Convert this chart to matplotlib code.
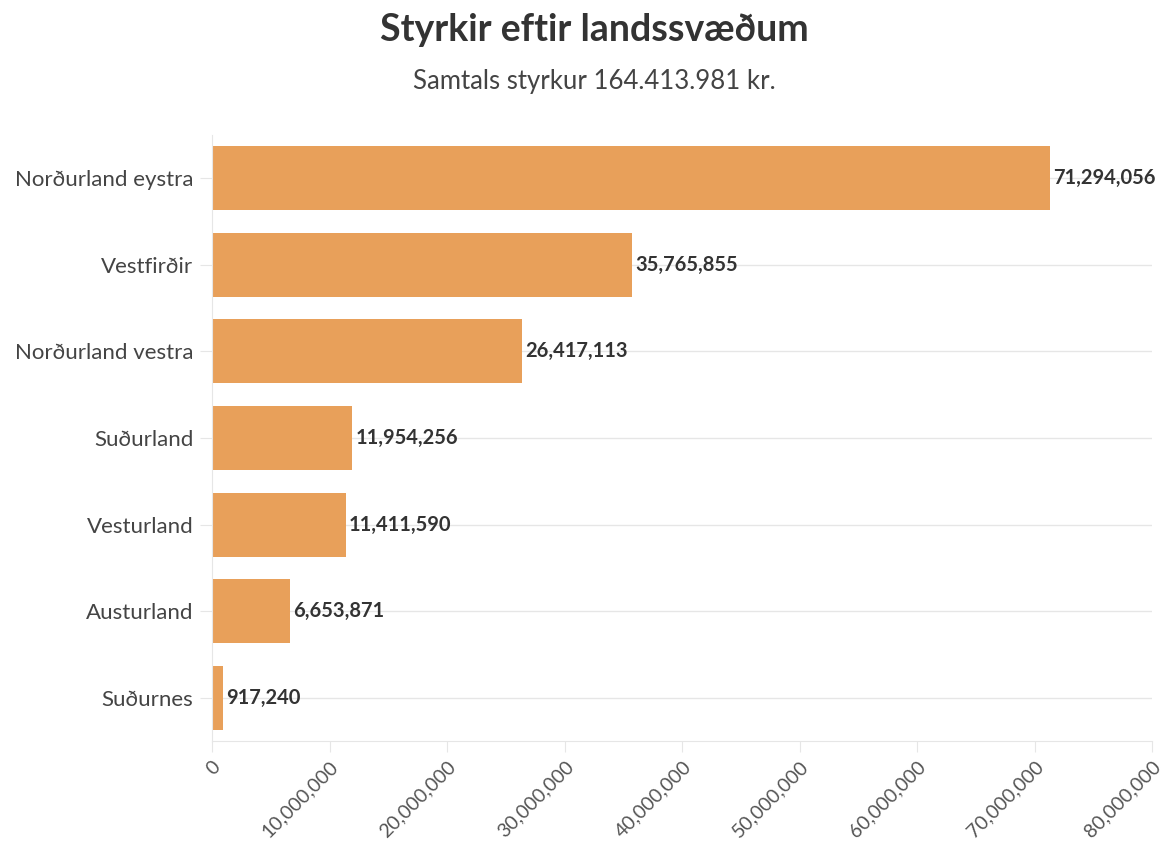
import matplotlib.pyplot as plt
from matplotlib.ticker import FuncFormatter

plt.rcParams['font.family'] = ['Lato', 'DejaVu Sans']

regions = ['Norðurland eystra', 'Vestfirðir', 'Norðurland vestra', 'Suðurland',
           'Vesturland', 'Austurland', 'Suðurnes']
amounts = [71294056, 35765855, 26417113, 11954256, 11411590, 6653871, 917240]
x_ticks = [0, 10000000, 20000000, 30000000, 40000000, 50000000, 60000000, 70000000, 80000000]

bar_color = '#E8A05A'
grid_color = '#E6E6E6'

fig = plt.figure(figsize=(11.64, 8.47), dpi=100)
ax = fig.add_axes([212 / 1164, 1 - 741 / 847, (1152 - 212) / 1164, (741 - 135) / 847])

y = list(range(len(regions)))
ax.barh(y, amounts, height=0.74, color=bar_color, zorder=2)

for yi, v in zip(y, amounts):
    ax.text(v + 250000, yi, f'{v:,}', va='center', ha='left',
            fontsize=14.5, fontweight='bold', color='#333333', zorder=3)

ax.set_yticks(y)
ax.set_yticklabels(regions, fontsize=16, color='#444444')
ax.set_ylim(len(regions) - 0.5, -0.5)
ax.set_xlim(0, 80000000)
ax.set_xticks(x_ticks)
ax.xaxis.set_major_formatter(FuncFormatter(lambda v, p: f'{int(v):,}'))
for lab in ax.get_xticklabels():
    lab.set_rotation(45)
    lab.set_ha('right')
    lab.set_rotation_mode('anchor')
    lab.set_fontsize(14)
    lab.set_color('#555555')

ax.grid(axis='y', color=grid_color, linewidth=1, zorder=0)
ax.tick_params(axis='y', length=8.5, color=grid_color, pad=5)
ax.tick_params(axis='x', length=8, color=grid_color, pad=4)
for s in ['top', 'right']:
    ax.spines[s].set_visible(False)
ax.spines['left'].set_color(grid_color)
ax.spines['bottom'].set_color(grid_color)

fig.text(594 / 1164, 1 - 30 / 847, 'Styrkir eftir landssvæðum', ha='center', va='center',
         fontsize=27, fontweight='bold', color='#333333')
fig.text(594 / 1164, 1 - 81 / 847, 'Samtals styrkur 164.413.981 kr.', ha='center', va='center',
         fontsize=18.5, color='#444444')

fig.savefig('out.png', dpi=100)
